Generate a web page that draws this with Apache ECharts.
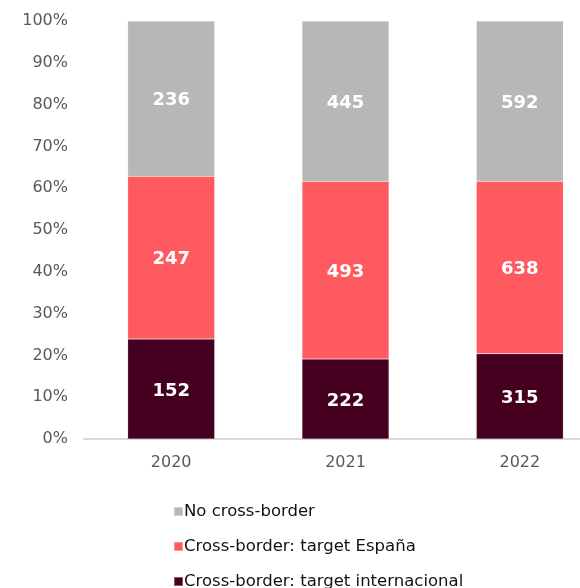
<!DOCTYPE html>
<html>
<head>
<meta charset="utf-8">
<script src="https://cdn.jsdelivr.net/npm/echarts@6/dist/echarts.min.js"></script>
<style>
  html, body { margin: 0; padding: 0; background: #fff; }
  #chart { width: 580px; height: 588px; }
</style>
</head>
<body>
<div id="chart"></div>
<script>
// Deal counts per year, split by cross-border type
const years = ['2020', '2021', '2022'];
const intlTarget = [152, 222, 315];
const spainTarget = [247, 493, 638];
const noCrossBorder = [236, 445, 592];
const yTickLabels = ['0%', '10%', '20%', '30%', '40%', '50%', '60%', '70%', '80%', '90%', '100%'];

const seriesNames = ['Cross-border: target internacional', 'Cross-border: target España', 'No cross-border'];
const seriesColors = ['#450020', '#ff5a5f', '#b7b7b7'];
const raw = [intlTarget, spainTarget, noCrossBorder];

const totals = years.map((_, i) => raw.reduce((s, arr) => s + arr[i], 0));

const font = 'DejaVu Sans';

// one legend block per entry, stacked top to bottom
const legendOrder = ['No cross-border', 'Cross-border: target España', 'Cross-border: target internacional'];
const legends = legendOrder.map((name, k) => ({
  orient: 'vertical',
  left: 168,
  top: 498 + k * 35,
  itemWidth: 9,
  itemHeight: 9,
  itemGap: 4,
  icon: 'rect',
  data: [name],
  textStyle: { fontFamily: font, fontSize: 16.5, color: '#111', padding: [0, 0, 0, -4] }
}));

const chart = echarts.init(document.getElementById('chart'));
chart.setOption({
  animation: false,
  textStyle: { fontFamily: font },
  grid: { left: 84, top: 21, width: 523, bottom: 149, containLabel: false, outerBoundsMode: 'none' },
  legend: legends,
  xAxis: {
    type: 'category',
    data: years,
    axisLine: { lineStyle: { color: '#d9d9d9', width: 2 } },
    axisTick: { show: false },
    axisLabel: { fontFamily: font, fontSize: 16, color: '#595959', margin: 16 }
  },
  yAxis: {
    type: 'value',
    min: 0,
    max: 1,
    interval: 0.1,
    axisLine: { show: false },
    axisTick: { show: false },
    splitLine: { show: false },
    axisLabel: {
      fontFamily: font, fontSize: 16, color: '#595959', margin: 16,
      formatter: (v) => yTickLabels[Math.round(v * 10)]
    }
  },
  series: raw.map((arr, si) => ({
    name: seriesNames[si],
    type: 'bar',
    stack: 'total',
    barWidth: 87,
    itemStyle: { color: seriesColors[si], borderColor: 'rgba(255,255,255,0.35)', borderWidth: 0.5 },
    label: {
      show: true,
      position: 'inside',
      offset: [0, 2],
      color: '#fff',
      fontFamily: font,
      fontWeight: 'bold',
      fontSize: 18,
      formatter: (p) => String(arr[p.dataIndex])
    },
    data: arr.map((v, i) => v / totals[i])
  }))
});
</script>
</body>
</html>
